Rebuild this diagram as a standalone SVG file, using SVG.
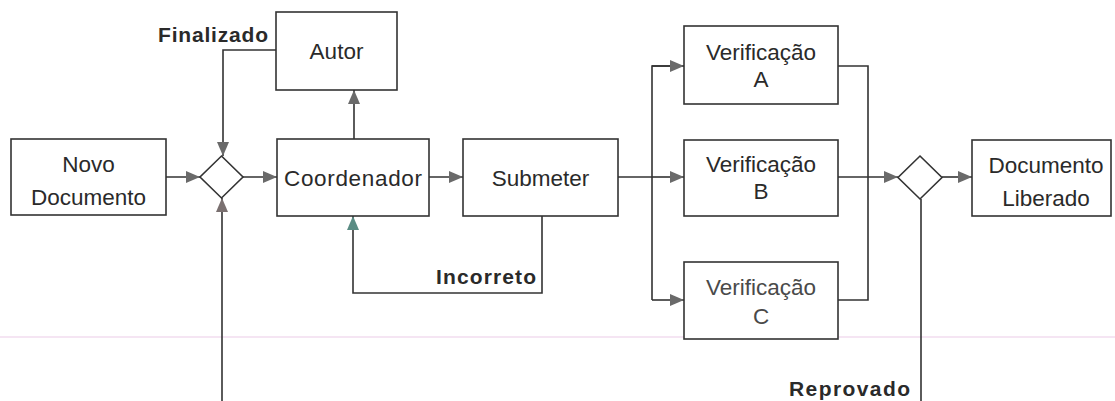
<svg xmlns="http://www.w3.org/2000/svg" width="1115" height="401" viewBox="0 0 1115 401">
<style>
.box{fill:#fff;stroke:#333;stroke-width:1.6}
.dia{fill:#fff;stroke:#333;stroke-width:1.6}
.t{font-family:"Liberation Sans",Arial,sans-serif;font-size:22.5px;fill:#2a2a2a;text-anchor:middle}
.lbl{font-family:"Liberation Sans",Arial,sans-serif;font-size:21px;font-weight:bold;fill:#2a2a2a}
.c{fill:none;stroke:#333;stroke-width:1.6}
</style>
<defs>
<marker id="ah" markerUnits="userSpaceOnUse" markerWidth="15" markerHeight="13" refX="14" refY="6" orient="auto">
<path d="M0,0 L14,6 L0,12 z" fill="#6a6a6a"/>
</marker>
<marker id="ahT" markerUnits="userSpaceOnUse" markerWidth="15" markerHeight="13" refX="14" refY="6" orient="auto">
<path d="M0,0 L14,6 L0,12 z" fill="#5a8c84"/>
</marker>
<marker id="ahB" markerUnits="userSpaceOnUse" markerWidth="15" markerHeight="13" refX="14" refY="6" orient="auto">
<path d="M0,0 L14,6 L0,12 z" fill="#7a7070"/>
</marker>
</defs>
<rect width="1115" height="401" fill="#fff"/>
<line x1="0" y1="337" x2="1115" y2="337" stroke="#f2dcef" stroke-width="1.5"/>

<g id="connectors">
<path class="c" d="M166,177 H200" marker-end="url(#ah)"/>
<path class="c" d="M243,177 H277" marker-end="url(#ah)"/>
<path class="c" d="M354,139 V90" marker-end="url(#ah)"/>
<path class="c" d="M276,50 H223 V156" marker-end="url(#ah)"/>
<path class="c" d="M429,177 H463" marker-end="url(#ah)"/>
<path class="c" d="M542,216 V293 H353 V216" marker-end="url(#ahT)"/>
<path class="c" d="M618,177 H652"/>
<path class="c" d="M684,66 H652 V300"/>
<path class="c" d="M652,66 H684" marker-end="url(#ah)"/>
<path class="c" d="M652,177 H684" marker-end="url(#ah)"/>
<path class="c" d="M652,300 H684" marker-end="url(#ah)"/>
<path class="c" d="M838,66 H868 V300 H838"/>
<path class="c" d="M838,177 H898" marker-end="url(#ah)"/>
<path class="c" d="M942,177 H972" marker-end="url(#ah)"/>
<path class="c" d="M921,199 V401"/>
<path class="c" d="M222,401 V198" marker-end="url(#ahB)"/>
<text class="lbl" x="268" y="42" text-anchor="end" textLength="110">Finalizado</text>
<text class="lbl" x="536" y="284" text-anchor="end" textLength="100">Incorreto</text>
<text class="lbl" x="910" y="396" text-anchor="end" textLength="121">Reprovado</text>
</g>

<g id="novo-documento">
<rect class="box" x="11" y="139" width="155" height="76"/>
<text class="t" x="88.5" y="172">Novo</text>
<text class="t" x="88.5" y="205">Documento</text>
</g>
<g id="gateway-1">
<path class="dia" d="M221.5,156 L243,177 L221.5,198 L200,177 z"/>
</g>
<g id="autor">
<rect class="box" x="276" y="12" width="121" height="78"/>
<text class="t" x="336.5" y="59">Autor</text>
</g>
<g id="coordenador">
<rect class="box" x="277" y="139" width="152" height="77"/>
<text class="t" x="353" y="186" textLength="138">Coordenador</text>
</g>
<g id="submeter">
<rect class="box" x="463" y="139" width="155" height="77"/>
<text class="t" x="540.5" y="186">Submeter</text>
</g>
<g id="verificacao-a">
<rect class="box" x="684" y="26" width="154" height="78"/>
<text class="t" x="761" y="60">Verificação</text>
<text class="t" x="761" y="87">A</text>
</g>
<g id="verificacao-b">
<rect class="box" x="684" y="140" width="154" height="76"/>
<text class="t" x="761" y="172">Verificação</text>
<text class="t" x="761" y="199">B</text>
</g>
<g id="verificacao-c">
<rect class="box" x="684" y="262" width="154" height="77"/>
<text class="t" x="761" y="295" fill="#555" style="fill:#4a4a4a">Verificação</text>
<text class="t" x="761" y="324" style="fill:#4a4a4a">C</text>
</g>
<g id="gateway-2">
<path class="dia" d="M920,156 L942,177.5 L920,199 L898,177.5 z"/>
</g>
<g id="documento-liberado">
<rect class="box" x="972" y="140" width="139" height="76"/>
<text class="t" x="1046" y="173">Documento</text>
<text class="t" x="1046" y="206">Liberado</text>
</g>
</svg>
